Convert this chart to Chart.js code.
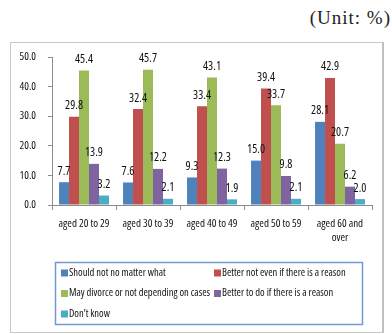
<!DOCTYPE html>
<html>
<head>
<meta charset="utf-8">
<script src="https://cdn.jsdelivr.net/npm/chart.js@4.4.1/dist/chart.umd.min.js"></script>
<style>
  html, body { margin: 0; padding: 0; background: #fff; }
  #wrap { position: relative; width: 392px; height: 334px; overflow: hidden; }
  #unit {
    position: absolute; right: 1px; top: 8px;
    font-family: "Liberation Serif", "DejaVu Serif", serif;
    font-size: 19px; letter-spacing: 1px; color: #222; line-height: 1;
  }
  #frame {
    position: absolute; left: 10px; top: 42px; width: 371px; height: 289px;
    border: 1px solid #c8c8c8; border-right: 2px solid #c0c0c0;
  }
  canvas { position: absolute; left: 0; top: 0; }
</style>
</head>
<body>
<div id="wrap">
  <div id="unit">(Unit: %)</div>
  <div id="frame"></div>
  <canvas id="myChart" width="392" height="334"></canvas>
</div>
<script>
const ageGroups = ["aged 20 to 29", "aged 30 to 39", "aged 40 to 49", "aged 50 to 59", ["aged 60 and", "over"]];

const shouldNot = [7.7, 7.6, 9.3, 15.0, 28.1];
const betterNot = [29.8, 32.4, 33.4, 39.4, 42.9];
const dependsOnCase = [45.4, 45.7, 43.1, 33.7, 20.7];
const betterToDo = [13.9, 12.2, 12.3, 9.8, 6.2];
const dontKnow = [3.2, 2.1, 1.9, 2.1, 2.0];

const seriesNames = [
  "Should not no matter what",
  "Better not even if there is a reason",
  "May divorce or not depending on cases",
  "Better to do if there is a reason",
  "Don\u2019t know"
];
const seriesColors = ["#4f81bd", "#c0504d", "#9bbb59", "#8064a2", "#4bacc6"];
const yTicks = [0, 10, 20, 30, 40, 50];

const fontFamily = "'Open Sans', sans-serif";

// narrow all canvas text (canvas resizes reset the context state)
const narrowText = {
  id: "narrowText",
  beforeLayout(chart) { chart.ctx.fontStretch = "condensed"; },
  beforeDraw(chart) { chart.ctx.fontStretch = "condensed"; }
};

// value text above each bar
const barValues = {
  id: "barValues",
  afterDatasetsDraw(chart) {
    const ctx = chart.ctx;
    ctx.save();
    ctx.font = "12px " + fontFamily;
    ctx.fontStretch = "condensed";
    ctx.fillStyle = "#111";
    ctx.textAlign = "center";
    ctx.textBaseline = "bottom";
    chart.data.datasets.forEach((ds, i) => {
      chart.getDatasetMeta(i).data.forEach((bar, j) => {
        ctx.fillText(ds.data[j].toFixed(1), bar.x, bar.y - 5);
      });
    });
    ctx.restore();
  }
};

// boxed legend in two columns under the axis
const boxLegend = {
  id: "boxLegend",
  afterDraw(chart) {
    const ctx = chart.ctx;
    const left = 55, top = 262, width = 307, height = 62;
    ctx.save();
    ctx.strokeStyle = "#6f9ad3";
    ctx.lineWidth = 1.5;
    ctx.strokeRect(left + 0.5, top + 0.5, width, height);
    ctx.font = "10.5px " + fontFamily;
    ctx.fontStretch = "condensed";
    ctx.textBaseline = "middle";
    ctx.textAlign = "left";
    chart.data.datasets.forEach((ds, i) => {
      const col = i % 2, row = Math.floor(i / 2);
      const x = col === 0 ? 61 : 214;
      const y = top + 11 + row * 20.5;
      ctx.fillStyle = ds.backgroundColor;
      ctx.fillRect(x, y - 3.5, 7, 7);
      ctx.fillStyle = "#111";
      ctx.fillText(ds.label, x + 8, y);
    });
    ctx.restore();
  }
};

new Chart(document.getElementById("myChart").getContext("2d"), {
  type: "bar",
  data: {
    labels: ageGroups,
    datasets: [shouldNot, betterNot, dependsOnCase, betterToDo, dontKnow].map((values, i) => ({
      label: seriesNames[i],
      data: values,
      backgroundColor: seriesColors[i],
      borderWidth: 0,
      categoryPercentage: 0.78,
      barPercentage: 1.0
    }))
  },
  options: {
    responsive: false,
    animation: false,
    layout: { padding: { left: 12, right: 20, top: 57, bottom: 79 } },
    plugins: {
      legend: { display: false },
      tooltip: { enabled: false }
    },
    scales: {
      x: {
        grid: { drawOnChartArea: false, offset: true, tickLength: 5, color: "#8c8c8c" },
        border: { color: "#8c8c8c" },
        ticks: {
          color: "#111",
          font: { family: fontFamily, size: 11, lineHeight: 1.35 },
          padding: 6,
          maxRotation: 0,
          autoSkip: false
        },
        afterFit(scale) { scale.height = 50; }
      },
      y: {
        min: 0,
        max: 50,
        afterBuildTicks(scale) { scale.ticks = yTicks.map(v => ({ value: v })); },
        grid: { drawOnChartArea: false, tickLength: 4, color: "#8c8c8c" },
        border: { color: "#8c8c8c" },
        ticks: {
          color: "#111",
          font: { family: fontFamily, size: 11 },
          padding: 12,
          callback: v => v.toFixed(1)
        },
        afterFit(scale) { scale.width = 40; }
      }
    }
  },
  plugins: [narrowText, barValues, boxLegend]
});
</script>
</body>
</html>
